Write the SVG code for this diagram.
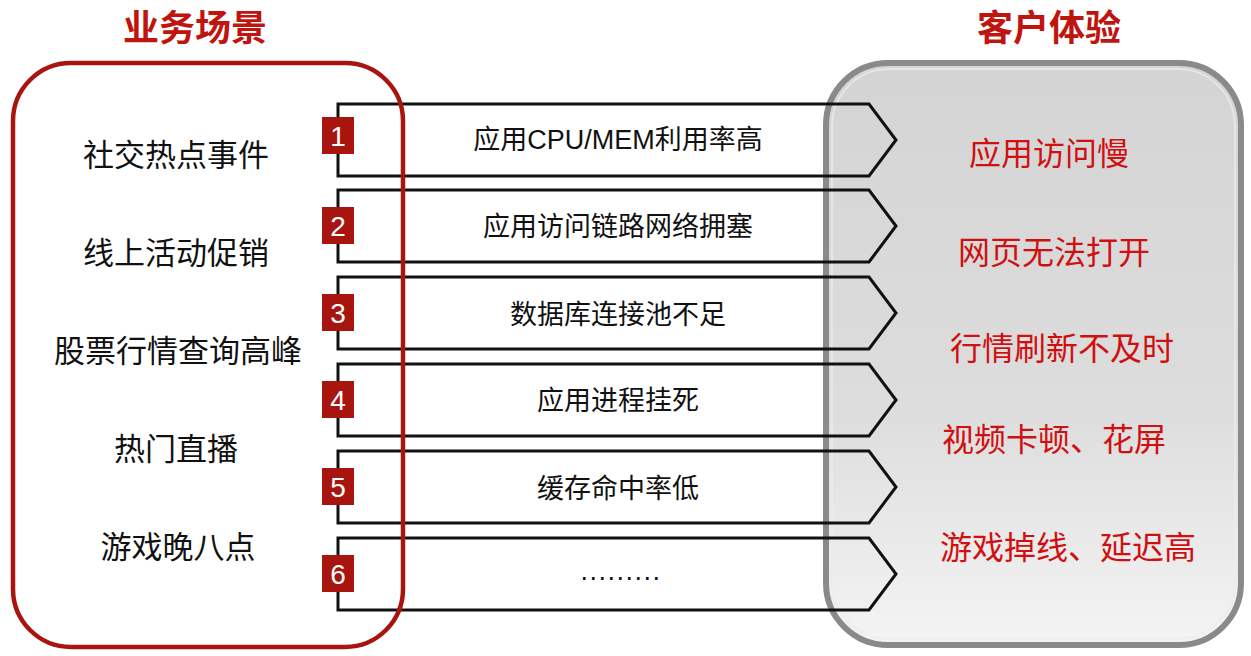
<svg xmlns="http://www.w3.org/2000/svg" width="1251" height="656" viewBox="0 0 1251 656">
<style>
.cjk{font-family:"Noto Sans CJK SC","Liberation Sans",sans-serif;}
.title{font-size:36px;font-weight:bold;fill:#c0140f;text-anchor:middle;}
.left{font-size:31px;fill:#111;text-anchor:middle;}
.right{font-size:32px;fill:#d01010;text-anchor:middle;}
.mid{font-family:"Liberation Sans","Noto Sans CJK SC",sans-serif;font-size:27px;fill:#111;text-anchor:middle;}
.arrow{fill:none;stroke:#111;stroke-width:3;stroke-linejoin:miter;}
.num{fill:#a8150f;}
.numt{font-family:"Liberation Sans",Arial,sans-serif;font-size:28px;fill:#fff;text-anchor:middle;}
</style>
<defs>
<linearGradient id="gg" x1="0" y1="0" x2="0" y2="1">
<stop offset="0" stop-color="#d4d4d4"/>
<stop offset="0.6" stop-color="#dddddd"/>
<stop offset="1" stop-color="#f4f4f4"/>
</linearGradient>
<path id="arr" d="M0,0 H531 L558,36 L531,72 H0 Z"/>
</defs>
<rect width="1251" height="656" fill="#fff"/>

<g id="title-left"><text class="cjk title" x="195" y="41">业务场景</text></g>
<g id="title-right"><text class="cjk title" x="1049" y="41">客户体验</text></g>

<g id="experience-box">
<rect x="826" y="63" width="415" height="582" rx="62" fill="url(#gg)" stroke="#8a8a8a" stroke-width="6"/>
<rect x="832" y="69" width="403" height="570" rx="57" fill="none" stroke="#ececec" stroke-width="2" opacity="0.7"/>
<text class="cjk right" x="1049" y="165">应用访问慢</text>
<text class="cjk right" x="1054" y="264">网页无法打开</text>
<text class="cjk right" x="1062" y="360">行情刷新不及时</text>
<text class="cjk right" x="1054" y="451">视频卡顿、花屏</text>
<text class="cjk right" x="1068" y="559">游戏掉线、延迟高</text>
</g>

<g id="connectors">
<g id="cause1"><use href="#arr" class="arrow" x="338" y="104"/><text class="mid" x="618" y="149">应用CPU/MEM利用率高</text></g>
<g id="cause2"><use href="#arr" class="arrow" x="338" y="190"/><text class="mid" x="618" y="236">应用访问链路网络拥塞</text></g>
<g id="cause3"><use href="#arr" class="arrow" x="338" y="277"/><text class="mid" x="618" y="324">数据库连接池不足</text></g>
<g id="cause4"><use href="#arr" class="arrow" x="338" y="364"/><text class="mid" x="618" y="410">应用进程挂死</text></g>
<g id="cause5"><use href="#arr" class="arrow" x="338" y="451"/><text class="mid" x="618" y="498">缓存命中率低</text></g>
<g id="cause6"><use href="#arr" class="arrow" x="338" y="538"/><text class="mid" x="621" y="580" letter-spacing="1.5">.........</text></g>
</g>

<g id="scenario-box">
<rect x="13" y="63" width="390" height="584" rx="58" fill="none" stroke="#a8150f" stroke-width="4.5"/>
<text class="cjk left" x="176" y="166">社交热点事件</text>
<text class="cjk left" x="176" y="264">线上活动促销</text>
<text class="cjk left" x="178" y="362">股票行情查询高峰</text>
<text class="cjk left" x="176" y="460">热门直播</text>
<text class="cjk left" x="178" y="558">游戏晚八点</text>
</g>

<g id="badge1"><rect class="num" x="322" y="117" width="32" height="37"/><text class="numt" x="338" y="146">1</text></g>
<g id="badge2"><rect class="num" x="322" y="207" width="32" height="37"/><text class="numt" x="338" y="236">2</text></g>
<g id="badge3"><rect class="num" x="322" y="294" width="32" height="37"/><text class="numt" x="338" y="323">3</text></g>
<g id="badge4"><rect class="num" x="322" y="381" width="32" height="37"/><text class="numt" x="338" y="410">4</text></g>
<g id="badge5"><rect class="num" x="322" y="468" width="32" height="37"/><text class="numt" x="338" y="497">5</text></g>
<g id="badge6"><rect class="num" x="322" y="555" width="32" height="37"/><text class="numt" x="338" y="584">6</text></g>
</svg>
